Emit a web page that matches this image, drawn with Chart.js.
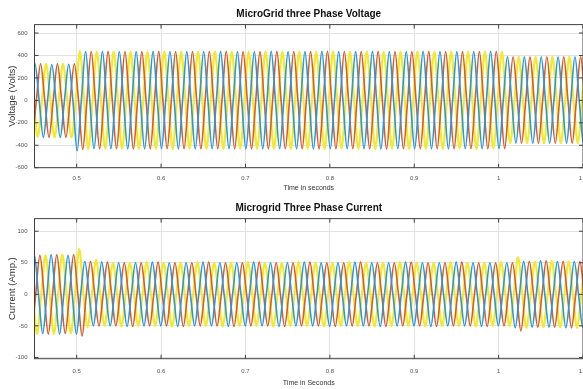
<!DOCTYPE html>
<html>
<head>
<meta charset="utf-8">
<script src="https://cdn.jsdelivr.net/npm/chart.js@4/dist/chart.umd.min.js"></script>
<style>
  html, body { margin: 0; padding: 0; background: #fff; overflow: hidden; width: 583px; height: 389px; }
  .box { position: absolute; left: 0; width: 600px; }
  #voltBox { top: 0; height: 192px; }
  #currBox { top: 192px; height: 197px; }
</style>
</head>
<body>
<div class="box" id="voltBox"><canvas id="voltChart" width="600" height="192"></canvas></div>
<div class="box" id="currBox"><canvas id="currChart" width="600" height="197"></canvas></div>
<script>
// 50 Hz waves, one value per half cycle (peak / trough)
const HALF_PERIOD = 0.01;

const timeTicks = [0.5, 0.6, 0.7, 0.8, 0.9, 1, 1.1];
const voltTicks = [-600, -400, -200, 0, 200, 400, 600];
const currTicks = [-100, -50, 0, 50, 100];

// first extremum time of each phase
const voltStart = { blue: 0.4405, red: 0.4372, yellow: 0.4438 };
const currStart = { blue: 0.4397, red: 0.4364, yellow: 0.4430 };

const voltBlue = [
  -325, 325, -330, 320, -330, 322, -450, 435, -432, 436,
  -431, 435, -433, 434, -432, 436, -430, 435, -432, 434,
  -433, 435, -431, 436, -432, 435, -433, 434, -432, 436,
  -431, 435, -432, 434, -433, 436, -432, 435, -430, 434,
  -432, 436, -433, 435, -431, 434, -432, 436, -432, 435,
  -433, 434, -431, 435, -432, 436, -430, 388, -382, 387,
  -383, 388, -382, 387, -381, 388, -382, 387
];
const voltRed = [
  325, -325, 326, -330, 325, -330, 326, -438, 435, -432,
  436, -431, 435, -433, 434, -432, 436, -430, 435, -432,
  434, -433, 435, -431, 436, -432, 435, -433, 434, -432,
  436, -431, 435, -432, 434, -433, 436, -432, 435, -430,
  434, -432, 436, -433, 435, -431, 434, -432, 436, -432,
  435, -433, 434, -431, 435, -432, 436, -430, 388, -382,
  387, -383, 388, -382, 387, -381, 388, -382
];
const voltYellow = [
  325, -325, 326, -330, 325, -330, 438, -432, 435, -431,
  436, -432, 434, -433, 435, -431, 436, -432, 435, -430,
  434, -432, 436, -433, 435, -431, 434, -432, 436, -432,
  435, -433, 434, -431, 435, -432, 436, -430, 434, -432,
  436, -433, 435, -431, 434, -432, 436, -432, 435, -433,
  434, -431, 435, -432, 436, -430, 434, -382, 388, -382,
  387, -383, 388, -382, 387, -381, 388, -382
];

const currYellow = [
  63, -63, 62, -63, 63, -62, 72, -52, 55, -50,
  50, -51, 50, -50, 51, -50, 50, -51, 50, -50,
  51, -50, 50, -51, 50, -50, 51, -50, 50, -51,
  50, -50, 51, -50, 50, -51, 50, -50, 51, -50,
  50, -51, 50, -50, 51, -50, 50, -51, 50, -50,
  51, -50, 50, -51, 50, -50, 51, -50, 59, -53,
  52, -52, 53, -52, 52, -53, 52, -52
];
const currBlue = [
  -63, 63, -62, 63, -63, 62, -63, 52, -50, 51,
  -50, 50, -51, 50, -50, 51, -50, 50, -51, 50,
  -50, 51, -50, 50, -51, 50, -50, 51, -50, 50,
  -51, 50, -50, 51, -50, 50, -51, 50, -50, 51,
  -50, 50, -51, 50, -50, 51, -50, 50, -51, 50,
  -50, 51, -50, 50, -51, 50, -50, 50, -53, 52,
  -52, 53, -52, 52, -53, 52, -52, 52
];
const currRed = [
  63, -63, 62, -63, 63, -62, 63, -66, 52, -50,
  51, -50, 50, -51, 50, -50, 51, -50, 50, -51,
  50, -50, 51, -50, 50, -51, 50, -50, 51, -50,
  50, -51, 50, -50, 51, -50, 50, -51, 50, -50,
  51, -50, 50, -51, 50, -50, 51, -50, 50, -51,
  50, -50, 51, -50, 50, -51, 50, -50, 50, -58,
  52, -52, 53, -52, 52, -53, 52, -52
];

const COLORS = { blue: '#2a97d8', red: '#d95b26', yellow: '#f1ea30' };
const TEXT_FONT = "'Liberation Sans', Arial, sans-serif";
const TITLE_FONT = "'Liberation Sans Narrow', 'Liberation Sans', Arial, sans-serif";

// peaks plus the zero crossing after each one
function wave(start, peaks) {
  const pts = [];
  peaks.forEach((v, k) => {
    const t = start + k * HALF_PERIOD;
    pts.push({ x: t, y: v });
    pts.push({ x: t + HALF_PERIOD / 2, y: 0 });
  });
  return pts;
}

function phaseSet(start, blue, red, yellow) {
  const base = { borderWidth: 1.6, pointRadius: 0, cubicInterpolationMode: 'monotone', fill: false };
  return [
    Object.assign({ label: 'A', data: wave(start.blue, blue), borderColor: COLORS.blue }, base),
    Object.assign({ label: 'B', data: wave(start.red, red), borderColor: COLORS.red }, base),
    Object.assign({ label: 'C', data: wave(start.yellow, yellow), borderColor: COLORS.yellow }, base, { borderWidth: 2.2 })
  ];
}

// box around the plot with inward tick marks
const framePlugin = {
  id: 'frame',
  afterDatasetsDraw(chart) {
    const { ctx, chartArea: a, scales } = chart;
    ctx.save();
    ctx.strokeStyle = '#404040';
    ctx.lineWidth = 1;
    ctx.strokeRect(a.left, a.top, a.right - a.left, a.bottom - a.top);
    ctx.beginPath();
    scales.x.ticks.forEach(t => {
      const px = scales.x.getPixelForValue(t.value);
      ctx.moveTo(px, a.bottom); ctx.lineTo(px, a.bottom - 4);
      ctx.moveTo(px, a.top); ctx.lineTo(px, a.top + 4);
    });
    scales.y.ticks.forEach(t => {
      const py = scales.y.getPixelForValue(t.value);
      ctx.moveTo(a.left, py); ctx.lineTo(a.left + 4, py);
      ctx.moveTo(a.right, py); ctx.lineTo(a.right - 4, py);
    });
    ctx.stroke();
    ctx.restore();
  }
};

function makeChart(id, cfg) {
  const ctx = document.getElementById(id).getContext('2d');
  return new Chart(ctx, {
    type: 'line',
    data: { datasets: cfg.datasets },
    plugins: [framePlugin],
    options: {
      responsive: false,
      animation: false,
      events: [],
      layout: { padding: { left: 0, right: 17, top: 0, bottom: 0 } },
      plugins: {
        legend: { display: false },
        tooltip: { enabled: false },
        title: {
          display: true,
          text: cfg.title,
          fullSize: false,
          color: '#111',
          font: { family: TITLE_FONT, size: 10, weight: 'bold' },
          padding: { top: cfg.titleTop, bottom: 4.1 }
        }
      },
      scales: {
        x: {
          type: 'linear',
          min: 0.45,
          max: 1.1,
          afterBuildTicks: s => { s.ticks = timeTicks.map(v => ({ value: v })); },
          afterFit: s => { s.height = cfg.xHeight; },
          grid: { color: '#e2e2e2', drawTicks: false },
          border: { display: false },
          ticks: {
            padding: cfg.xPad,
            color: '#555',
            font: { family: TEXT_FONT, size: 6 },
            maxRotation: 0,
            callback: v => String(v)
          },
          title: {
            display: true,
            text: cfg.xTitle,
            color: '#333',
            font: { family: TEXT_FONT, size: 7 },
            padding: { top: 0, bottom: cfg.xTitlePad }
          }
        },
        y: {
          min: cfg.yMin,
          max: cfg.yMax,
          afterBuildTicks: s => { s.ticks = cfg.yTicks.map(v => ({ value: v })); },
          afterFit: s => { s.width = 34.5; },
          grid: { color: '#e2e2e2', drawTicks: false },
          border: { display: false },
          ticks: {
            padding: 7,
            color: '#555',
            font: { family: TEXT_FONT, size: 6 },
            callback: v => String(v)
          },
          title: {
            display: true,
            text: cfg.yTitle,
            color: '#333',
            font: { family: TEXT_FONT, size: 9.5 },
            padding: { top: 7, bottom: 0 }
          }
        }
      }
    }
  });
}

makeChart('voltChart', {
  title: 'MicroGrid three Phase Voltage',
  titleTop: 8.5,
  datasets: phaseSet(voltStart, voltBlue, voltRed, voltYellow),
  yMin: -600, yMax: 675, yTicks: voltTicks,
  yTitle: 'Voltage (Volts)',
  xTitle: 'Time in seconds',
  xHeight: 24.3, xPad: 6.7, xTitlePad: 0
});

makeChart('currChart', {
  title: 'Microgrid Three Phase Current',
  titleTop: 10.5,
  datasets: phaseSet(currStart, currBlue, currRed, currYellow),
  yMin: -102, yMax: 120, yTicks: currTicks,
  yTitle: 'Current (Amp.)',
  xTitle: 'Time in Seconds',
  xHeight: 30.3, xPad: 9.4, xTitlePad: 1.8
});
</script>
</body>
</html>
